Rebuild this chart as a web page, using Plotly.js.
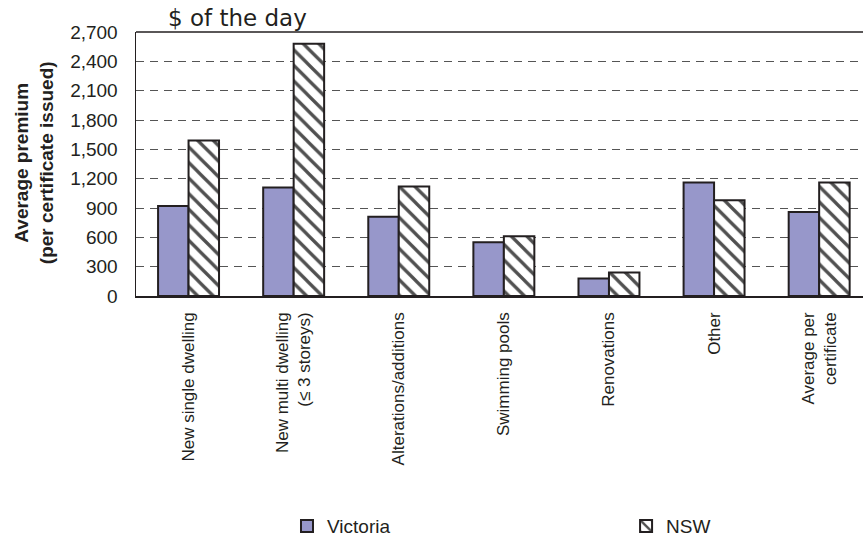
<!DOCTYPE html>
<html>
<head>
<meta charset="utf-8">
<script src="https://cdn.plot.ly/plotly-3.0.1.min.js"></script>
<style>
  html, body { margin: 0; padding: 0; background: #fff; }
  #chart { width: 863px; height: 540px; }
</style>
</head>
<body>
<div id="chart"></div>
<script>
// Average premium per certificate issued, by type of building work
const categories = [
  'New single dwelling',
  'New multi dwelling<br>(≤ 3 storeys)',
  'Alterations/additions',
  'Swimming pools',
  'Renovations',
  'Other',
  'Average per<br>certificate'
];
const victoria = [920, 1110, 810, 550, 180, 1160, 860];
const nsw = [1590, 2580, 1120, 610, 240, 980, 1160];
const yTicks = [0, 300, 600, 900, 1200, 1500, 1800, 2100, 2400, 2700];

const fontFamily = '"Liberation Sans", Arial, sans-serif';
const ink = '#231F20';
const outline = { color: ink, width: 2 };

const traces = [
  {
    type: 'bar',
    name: 'Victoria',
    x: categories,
    y: victoria,
    legend: 'legend',
    marker: { color: '#9797CA', line: outline }
  },
  {
    type: 'bar',
    name: 'NSW',
    x: categories,
    y: nsw,
    legend: 'legend2',
    marker: {
      color: '#ffffff',
      line: outline,
      pattern: { shape: '\\', fgcolor: '#505050', bgcolor: '#ffffff', size: 11, solidity: 0.3 }
    }
  }
];

const legendFont = { family: fontFamily, size: 19, color: ink };

const layout = {
  width: 863,
  height: 540,
  margin: { l: 136, r: 0, t: 32, b: 243.5, autoexpand: false },
  paper_bgcolor: '#ffffff',
  plot_bgcolor: '#ffffff',
  font: { family: fontFamily, size: 17, color: ink },
  barmode: 'group',
  bargap: 0.42,
  bargroupgap: 0,
  showlegend: true,
  legend: {
    orientation: 'h',
    x: 0.2077, xanchor: 'left',
    y: -0.8715, yanchor: 'middle',
    font: legendFont,
    itemclick: false
  },
  legend2: {
    orientation: 'h',
    x: 0.6741, xanchor: 'left',
    y: -0.8715, yanchor: 'middle',
    font: legendFont,
    itemclick: false
  },
  xaxis: {
    type: 'category',
    range: [-0.5, 6.417],
    tickangle: -90,
    showline: true,
    linecolor: ink,
    linewidth: 1.5,
    ticks: '',
    showgrid: false,
    automargin: false,
    ticklabelstandoff: 8,
    tickfont: { family: fontFamily, size: 17, color: ink }
  },
  yaxis: {
    range: [0, 2700],
    tickvals: yTicks,
    ticktext: yTicks.map(v => v.toLocaleString('en-US')),
    showline: true,
    linecolor: ink,
    linewidth: 1.5,
    ticks: '',
    automargin: false,
    ticklabelstandoff: 13,
    showgrid: true,
    gridcolor: '#555555',
    gridwidth: 1,
    griddash: '8px,6px',
    zeroline: false,
    tickfont: { family: fontFamily, size: 19, color: ink }
  },
  shapes: [
    {
      type: 'line', xref: 'paper', yref: 'paper',
      x0: 0, x1: 1, y0: 1, y1: 1,
      line: { color: ink, width: 1.5 }
    }
  ],
  annotations: [
    {
      text: '$ of the day',
      xref: 'paper', yref: 'paper',
      x: 0.0413, y: 1.053,
      xanchor: 'left', yanchor: 'middle',
      showarrow: false,
      font: { family: '"DejaVu Sans", Verdana, sans-serif', size: 23, color: ink }
    },
    {
      text: '<b>Average premium<br>(per certificate issued)</b>',
      xref: 'paper', yref: 'paper',
      x: -0.141, y: 0.505,
      xanchor: 'center', yanchor: 'middle',
      textangle: -90,
      showarrow: false,
      font: { family: fontFamily, size: 19, color: ink }
    }
  ]
};

Plotly.newPlot('chart', traces, layout, { displayModeBar: false, staticPlot: true });
</script>
</body>
</html>
